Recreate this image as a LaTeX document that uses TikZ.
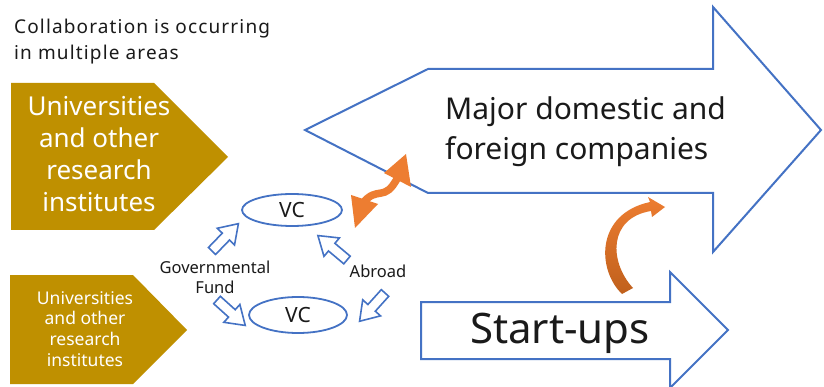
\documentclass[tikz,border=0pt]{standalone}
\usepackage{fontspec}
\setmainfont{Noto Sans}
\usetikzlibrary{shapes.geometric}
\definecolor{goldc}{HTML}{BF9000}
\definecolor{blu}{HTML}{4472C4}
\definecolor{org}{HTML}{ED7D31}
\definecolor{orgd}{HTML}{C0601C}
\definecolor{txt}{HTML}{1A1A1A}
\newcommand\blkarrow[3]{\draw[smallarr,shift={(#1,#2)},rotate=#3] (0,-5)--(20,-5)--(20,-12)--(38,0)--(20,12)--(20,5)--(0,5)--cycle;}
\begin{document}
\begin{tikzpicture}[x=1pt,y=-1pt,
  outline/.style={draw=blu,line width=2pt,fill=white,line join=miter},
  smallarr/.style={draw=blu,line width=1.6pt,fill=white,line join=miter},
  goldbox/.style={fill=goldc},
  vc/.style={ellipse,draw=blu,line width=1.8pt,fill=white,inner sep=0pt,text=txt,font=\fontsize{21}{24}\selectfont},
  lbl/.style={text=txt,inner sep=0pt}]
\useasboundingbox[fill=white] (0,0) rectangle (824,387);

% title
\node[lbl,anchor=north west,align=left,font=\fontsize{19}{26}\selectfont\addfontfeature{LetterSpace=6}] (title) at (14,19) {Collaboration is occurring\\in multiple areas};

% gold pentagons
\fill[goldbox] (11,83)--(154,83)--(228,157)--(154,230)--(11,230)--cycle;
\node[lbl,text=white,anchor=north,align=center,font=\fontsize{26}{32}\selectfont] (uni1) at (99,96) {Universities\\and other\\research\\institutes};
\fill[goldbox] (10,275)--(133,275)--(187,330)--(133,384)--(10,384)--cycle;
\node[lbl,text=white,anchor=north,align=center,font=\fontsize{17.5}{20.8}\selectfont] (uni2) at (85,291) {Universities\\and other\\research\\institutes};

% big arrows
\draw[outline] (305,130)--(428,69)--(713,69)--(713,7)--(821,130)--(713,252)--(713,193)--(428,193)--cycle;
\node[lbl,anchor=north west,align=left,font=\fontsize{30}{40}\selectfont] (major) at (445,97) {Major domestic and\\foreign companies};
\draw[outline] (421,302)--(670,302)--(670,272)--(728,330)--(670,388)--(670,359)--(421,359)--cycle;
\node[lbl,anchor=base,font=\fontsize{42}{48}\selectfont] (start) at (560,343) {Start-ups};

% VC ellipses
\node[vc,minimum width=100pt,minimum height=32pt] (vc1) at (292,210) {VC};
\node[vc,minimum width=98pt,minimum height=36pt] (vc2) at (298,315) {VC};

% small block arrows
\blkarrow{212}{251}{46}
\blkarrow{347}{260}{140}
\blkarrow{217}{300}{-42}
\blkarrow{385}{293}{-132}

\node[lbl,align=center,font=\fontsize{16.5}{20}\selectfont] (gov) at (215,277) {Governmental\\Fund};
\node[lbl,font=\fontsize{16.5}{20}\selectfont] (abroad) at (378,271) {Abroad};

% orange wavy double arrow
\draw[org,line width=7.5pt] (362,204) .. controls (378,184) and (384,204) .. (398,177);
\fill[org] (351,195)--(355,228)--(378,204)--cycle;
\fill[org] (406,154)--(411,187)--(384,173)--cycle;

% orange curved arrow
\shade[top color=org,bottom color=orgd]
  (622,294) .. controls (597,270) and (595,214) .. (650,202)
  -- (648,197) -- (665,207) -- (652,217) -- (651,211)
  .. controls (608,218) and (609,262) .. (633,288) -- cycle;
\end{tikzpicture}
\end{document}
